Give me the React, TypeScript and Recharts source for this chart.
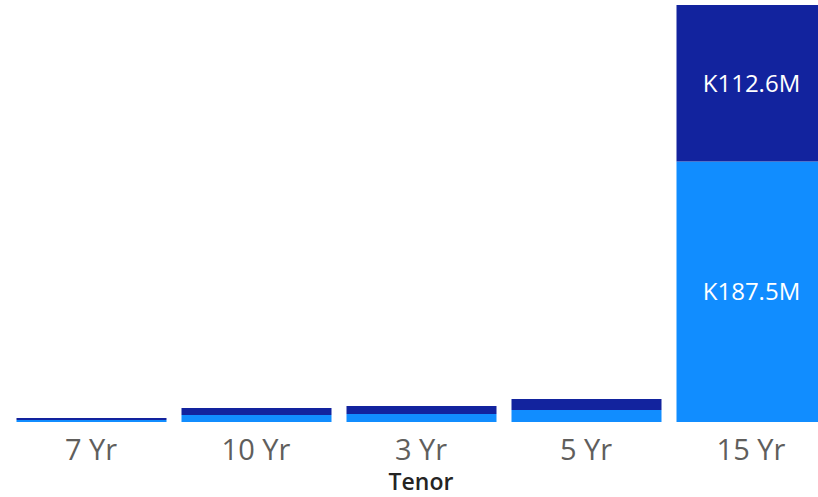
import { BarChart, Bar, XAxis, YAxis, LabelList } from 'recharts'

const tenors = ['7 Yr', '10 Yr', '3 Yr', '5 Yr', '15 Yr']
const lowerAmounts = [1.4, 5.0, 5.8, 8.6, 187.5]
const upperAmounts = [1.4, 5.0, 5.8, 7.9, 112.6]

const COLORS = { lower: '#118DFF', upper: '#12239E' }
const FONT = '"Segoe UI", "Open Sans", sans-serif'

const data = tenors.map((t, i) => ({ tenor: t, lower: lowerAmounts[i], upper: upperAmounts[i] }))

const fmt = (v: any) => (Number(v) > 50 ? `K${Number(v).toFixed(1)}M` : '')

function Tick({ x, y, payload }: any) {
  return (
    <text x={x} y={y} dy={30} textAnchor="middle" fill="#605E5C" fontSize={29} fontFamily={FONT}>
      {payload.value}
    </text>
  )
}

export default function App() {
  return (
    <div style={{ position: 'fixed', left: 0, top: 0, width: 818, height: 497, overflow: 'hidden', background: '#fff' }}>
      <BarChart
        width={834}
        height={497}
        data={data}
        margin={{ top: 5, right: 0.5, bottom: 0, left: 8.5 }}
        barSize={150}
      >
        <XAxis
          dataKey="tenor"
          axisLine={false}
          tickLine={false}
          height={75}
          tick={<Tick />}
          interval={0}
          label={{ value: 'Tenor', position: 'insideBottom', offset: 7, fill: '#252423', fontSize: 23, fontFamily: FONT, fontWeight: 600 }}
        />
        <YAxis hide domain={[0, 300.1]} />
        <Bar dataKey="lower" stackId="a" fill={COLORS.lower} isAnimationActive={false}>
          <LabelList dataKey="lower" position="center" fill="#fff" fontSize={24} fontFamily={FONT} formatter={fmt} />
        </Bar>
        <Bar dataKey="upper" stackId="a" fill={COLORS.upper} isAnimationActive={false}>
          <LabelList dataKey="upper" position="center" fill="#fff" fontSize={24} fontFamily={FONT} formatter={fmt} />
        </Bar>
      </BarChart>
    </div>
  )
}
